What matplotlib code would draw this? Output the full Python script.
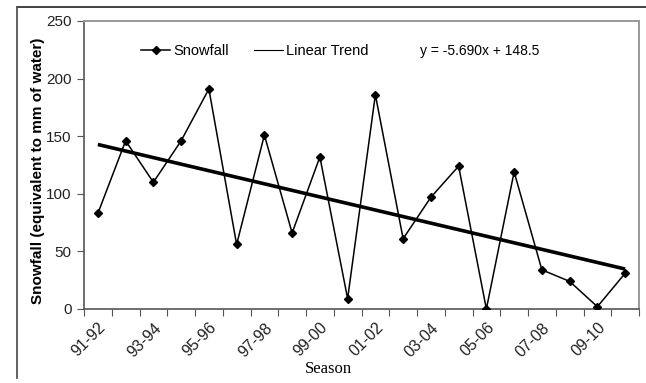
import numpy as np
import matplotlib.pyplot as plt
from matplotlib.lines import Line2D

# Data
seasons = ['91-92', '92-93', '93-94', '94-95', '95-96', '96-97', '97-98', '98-99',
           '99-00', '00-01', '01-02', '02-03', '03-04', '04-05', '05-06', '06-07',
           '07-08', '08-09', '09-10', '10-11']
snowfall = [83, 146, 110, 146, 191, 56, 151, 66, 132, 9,
            186, 61, 97, 124, 0, 119, 34, 24, 2, 31]
trend_slope = -5.690
trend_intercept = 148.5

plt.rcParams['font.family'] = ['Liberation Sans', 'DejaVu Sans']

fig = plt.figure(figsize=(6.46, 3.83), dpi=100)
ax = fig.add_axes([84 / 646, 1 - 309 / 383, (639 - 84) / 646, (309 - 21) / 383])

n = len(seasons)
x = np.arange(n)
trend = trend_intercept + trend_slope * (x + 1)

ax.plot(x, trend, color='black', lw=2.6, solid_capstyle='butt', zorder=2)
ax.plot(x, snowfall, color='black', lw=1.1, marker='D', ms=4.5, zorder=3)

ax.set_xlim(-0.5, n - 0.5)
ax.set_ylim(0, 250)
ax.set_yticks(range(0, 251, 50))
# ticks sit between the categories, labels on every other category
ax.set_xticks(np.arange(-0.5, n, 1))
ax.set_xticklabels([])
ax.tick_params(axis='x', which='major', length=5, color='#555555')
ax.set_xticks(x[::2], minor=True)
ax.set_xticklabels(seasons[::2], minor=True, rotation=45, ha='right',
                   rotation_mode='anchor', fontsize=11.5, color='#222222')
ax.tick_params(axis='x', which='minor', length=0, pad=8)
ax.tick_params(axis='y', length=5, color='#555555', labelsize=11,
               labelcolor='#222222', pad=4)

for side in ['left', 'bottom']:
    ax.spines[side].set_color('#555555')
    ax.spines[side].set_linewidth(1.2)
for side in ['right', 'top']:
    ax.spines[side].set_color('#999999')
    ax.spines[side].set_linewidth(1.4)

ax.set_ylabel('Snowfall (equivalent to mm of water)', fontsize=11,
              fontweight='bold')
ax.yaxis.set_label_coords(-0.07, 0.48)
xl = ax.set_xlabel('Season', family='Liberation Serif', fontsize=12)
xl.set_va('center')
ax.xaxis.set_label_coords(0.44, -0.208)

handles = [Line2D([], [], color='black', lw=1.1, marker='D', ms=4),
           Line2D([], [], color='black', lw=0.8)]
ax.legend(handles, ['Snowfall', 'Linear Trend'], loc='center left',
          bbox_to_anchor=(0.103, 0.897), ncol=2, frameon=False, fontsize=10.5,
          borderpad=0, borderaxespad=0,
          handlelength=2.0, handletextpad=0.2, columnspacing=1.7)
ax.text(0.605, 0.895, 'y = -5.690x + 148.5', transform=ax.transAxes,
        fontsize=10, va='center', ha='left')

# outer frame lines of the original figure
fig.add_artist(Line2D([17 / 646, 1], [1 - 7 / 383, 1 - 7 / 383],
                      color='#333333', lw=1.3))
fig.add_artist(Line2D([17 / 646, 17 / 646], [1 - 7 / 383, 1 - 378 / 383],
                      color='#555555', lw=1.3))

fig.savefig('out.png', dpi=100)
